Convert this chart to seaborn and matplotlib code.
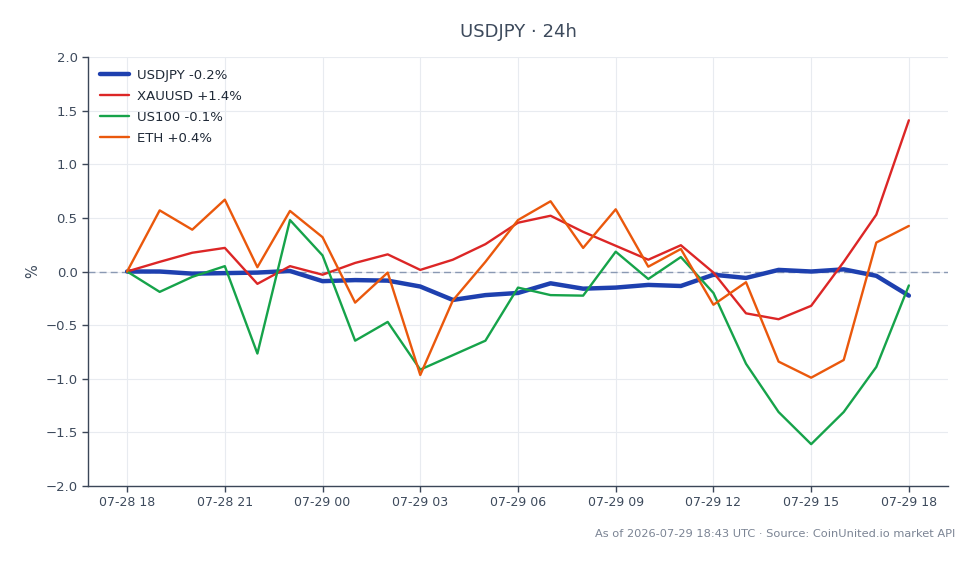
import matplotlib
matplotlib.use("Agg")
import matplotlib.pyplot as plt
import matplotlib.dates as mdates
import numpy as np
import pandas as pd
import seaborn as sns

# ---- data ----
times = pd.date_range("2026-07-28 18:00", "2026-07-29 18:00", freq="h")
usdjpy = [0.0, 0.0, -0.02, -0.015, -0.01, 0.005, -0.09, -0.08, -0.085, -0.14,
          -0.265, -0.22, -0.20, -0.11, -0.16, -0.15, -0.125, -0.135, -0.03, -0.06,
          0.015, 0.0, 0.02, -0.04, -0.225]
xauusd = [0.0, 0.09, 0.175, 0.22, -0.115, 0.05, -0.03, 0.08, 0.16, 0.015,
          0.11, 0.255, 0.455, 0.52, 0.37, 0.24, 0.11, 0.245, -0.01, -0.39,
          -0.445, -0.32, 0.09, 0.53, 1.41]
us100 = [0.0, -0.19, -0.05, 0.05, -0.765, 0.48, 0.15, -0.645, -0.47, -0.915,
         -0.78, -0.645, -0.15, -0.22, -0.225, 0.185, -0.07, 0.135, -0.2, -0.86,
         -1.31, -1.61, -1.31, -0.89, -0.13]
eth = [0.0, 0.57, 0.39, 0.67, 0.04, 0.565, 0.32, -0.29, -0.01, -0.965,
       -0.27, 0.09, 0.48, 0.655, 0.22, 0.58, 0.045, 0.21, -0.31, -0.10,
       -0.84, -0.99, -0.825, 0.27, 0.425]
labels = ["USDJPY -0.2%", "XAUUSD +1.4%", "US100 -0.1%", "ETH +0.4%"]
colors = ["#1e40af", "#dc2626", "#16a34a", "#ea580c"]
widths = [3.2, 1.7, 1.7, 1.7]
title = "USDJPY · 24h"
footer = "As of 2026-07-29 18:43 UTC · Source: CoinUnited.io market API"

sns.set_theme(style="whitegrid")
plt.rcParams["font.family"] = ["DejaVu Sans"]

fig = plt.figure(figsize=(9.79, 5.64), dpi=100)
ax = fig.add_axes([0.0899, 0.1383, 0.9683 - 0.0899, 0.8989 - 0.1383])

series = [usdjpy, xauusd, us100, eth]
for vals, lab, col, lw in zip(series, labels, colors, widths):
    df = pd.DataFrame({"t": times, "v": vals})
    sns.lineplot(data=df, x="t", y="v", ax=ax, color=col, linewidth=lw, label=lab,
                 zorder=3)

ax.axhline(0, color="#8a99b3", linestyle=(0, (5, 3)), linewidth=1.0, zorder=2)

ax.set_ylim(-2.0, 2.0)
ax.set_yticks(np.arange(-2.0, 2.01, 0.5))
ax.set_xlim(times[0] - pd.Timedelta(hours=1.2), times[-1] + pd.Timedelta(hours=1.2))
ax.xaxis.set_major_locator(mdates.HourLocator(byhour=range(0, 24, 3)))
ax.xaxis.set_major_formatter(mdates.DateFormatter("%m-%d %H"))

ax.set_facecolor("white")
ax.set_axisbelow(True)
ax.grid(True, color="#e8ebf0", linewidth=0.8)
for s in ["top", "right"]:
    ax.spines[s].set_visible(False)
for s in ["left", "bottom"]:
    ax.spines[s].set_visible(True)
    ax.spines[s].set_color("#3b4658")
    ax.spines[s].set_linewidth(1.0)
ax.tick_params(axis="both", colors="#3b4658", labelsize=9.5, length=4, width=1,
               labelcolor="#3d4a5c", bottom=True, left=True)
ax.tick_params(axis="x", labelsize=9.0)
ax.set_xlabel("")
ax.set_ylabel("%", color="#3d4a5c", fontsize=10.5)

leg = ax.legend(loc="upper left", frameon=False, fontsize=9.5, handlelength=2.2,
                handletextpad=0.6, borderaxespad=0.5, labelspacing=0.6)
for t in leg.get_texts():
    t.set_color("#1f2937")

fig.text((0.0899 + 0.9683) / 2, 1 - 32 / 564, title, ha="center", va="center",
         fontsize=13, color="#3d4a5c")
fig.text(955 / 979, 1 - 534 / 564, footer, ha="right", va="center",
         fontsize=8.2, color="#7b8494")

fig.savefig("out.png", dpi=100, facecolor="white")
